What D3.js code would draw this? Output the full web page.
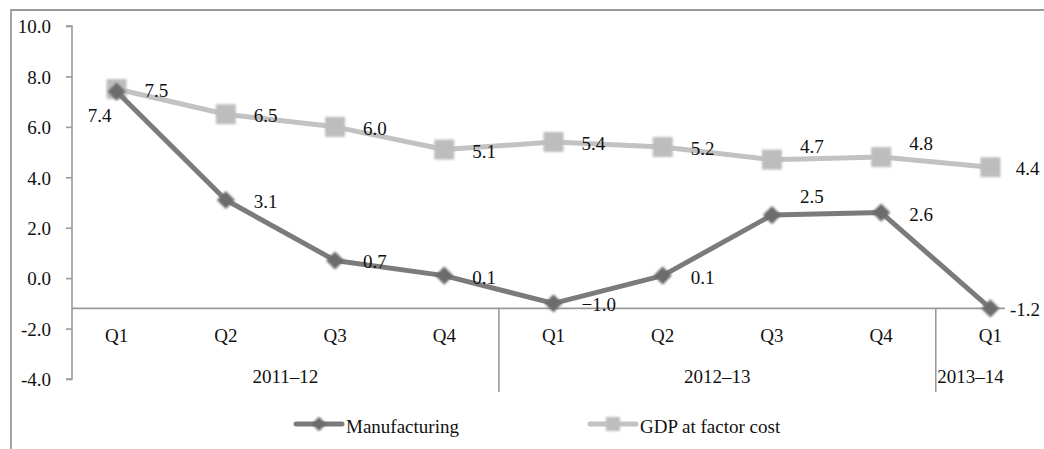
<!DOCTYPE html>
<html>
<head>
<meta charset="utf-8">
<script src="https://cdn.jsdelivr.net/npm/d3@7"></script>
<style>
  html, body { margin: 0; padding: 0; background: #fff; }
  svg { display: block; }
  text { font-family: "Liberation Serif", "DejaVu Serif", serif; fill: #111; }
</style>
</head>
<body>
<svg id="chart" width="1044" height="449"></svg>
<script>
// Quarterly growth rates (%), 2011-12 Q1 to 2013-14 Q1
const quarters = ["Q1", "Q2", "Q3", "Q4", "Q1", "Q2", "Q3", "Q4", "Q1"];
const years = [
  { label: "2011\u201312", from: 0, to: 3 },
  { label: "2012\u201313", from: 4, to: 7 },
  { label: "2013\u201314", from: 8, to: 8 }
];
const manufacturing = [7.4, 3.1, 0.7, 0.1, -1.0, 0.1, 2.5, 2.6, -1.2];
const gdpFactorCost = [7.5, 6.5, 6.0, 5.1, 5.4, 5.2, 4.7, 4.8, 4.4];
const yTicks = [-4, -2, 0, 2, 4, 6, 8, 10];
const seriesNames = ["Manufacturing", "GDP at factor cost"];

// where each value label sits relative to its point
const mfgLabelPos = ["lb", "r", "r", "r", "r", "r", "a", "r", "r"];
const gdpLabelPos = ["r", "r", "r", "r", "r", "r", "a", "a", "r"];

const svg = d3.select("#chart");
const FS = 19;
const axisColor = "#9a9a9a";
const mfgLine = "#7b7b7b", mfgMark = "#6c6c6c";
const gdpLine = "#c2c2c2", gdpMark = "#bdbdbd";

const defs = svg.append("defs");
defs.append("filter").attr("id", "soft")
  .attr("x", "-30%").attr("y", "-30%").attr("width", "160%").attr("height", "160%")
  .append("feGaussianBlur").attr("stdDeviation", 0.9);

// outer frame (top and left edges)
svg.append("path")
  .attr("d", "M11,449 L11,10 L1044,10")
  .attr("fill", "none").attr("stroke", axisColor).attr("stroke-width", 1.8);

const x = d3.scaleBand().domain(d3.range(quarters.length)).range([62, 1045]).padding(0);
const cx = i => x(i) + x.bandwidth() / 2;
const y = d3.scaleLinear().domain([-4, 10]).range([379, 26]);

const plotLeft = 72, plotRight = 1005;
const crossAt = -1.2;

// value axis
const yAxis = svg.append("g").attr("transform", `translate(${plotLeft},0)`)
  .call(d3.axisLeft(y).tickValues(yTicks).tickSize(6).tickPadding(15)
    .tickFormat(d => d.toFixed(1)));
yAxis.select(".domain").attr("stroke", axisColor).attr("stroke-width", 1.6)
  .attr("d", `M-6,${y(10)}H0V${y(-4)}H-6`);
yAxis.selectAll(".tick line").attr("stroke", axisColor).attr("stroke-width", 1.6);
yAxis.selectAll(".tick text").attr("font-size", FS).attr("fill", "#111")
  .attr("font-family", "Liberation Serif, serif").attr("dy", "0.36em");

// category axis line
const yc = y(crossAt);
svg.append("line").attr("x1", plotLeft).attr("x2", plotRight)
  .attr("y1", yc).attr("y2", yc)
  .attr("stroke", axisColor).attr("stroke-width", 1.6);

// year group separators
years.slice(1).forEach(g => {
  svg.append("line").attr("x1", x(g.from)).attr("x2", x(g.from))
    .attr("y1", yc).attr("y2", 392)
    .attr("stroke", axisColor).attr("stroke-width", 1.6);
});

// quarter labels
svg.selectAll(".qlab").data(quarters).join("text")
  .attr("x", (d, i) => cx(i)).attr("y", 342)
  .attr("text-anchor", "middle").attr("font-size", FS).text(d => d);

// year labels, centred in the visible span of each group
svg.selectAll(".ylab").data(years).join("text")
  .attr("x", g => (Math.max(x(g.from), plotLeft) + Math.min(x(g.to) + x.bandwidth(), plotRight)) / 2)
  .attr("y", 383).attr("text-anchor", "middle").attr("font-size", FS)
  .text(g => g.label);

const line = d3.line().x((d, i) => cx(i)).y(d => y(d));

function drawSeries(values, color, markColor, shape, size) {
  svg.append("path").datum(values).attr("d", line)
    .attr("fill", "none").attr("stroke", color).attr("stroke-width", 5)
    .attr("stroke-linejoin", "round");
  svg.selectAll(null).data(values).join("path")
    .attr("transform", (d, i) => `translate(${cx(i)},${y(d)})`)
    .attr("d", d3.symbol().type(shape).size(size))
    .attr("fill", markColor).attr("filter", "url(#soft)");
}

const diamond = {
  draw(ctx, size) {
    const r = Math.sqrt(size) / 2 * 1.05;
    ctx.moveTo(0, -r); ctx.lineTo(r, 0); ctx.lineTo(0, r); ctx.lineTo(-r, 0); ctx.closePath();
  }
};

drawSeries(gdpFactorCost, gdpLine, gdpMark, d3.symbolSquare, 400);
drawSeries(manufacturing, mfgLine, mfgMark, diamond, 300);

// value labels
function fmt(v, i, series) {
  const s = v.toFixed(1);
  return (series === "m" && i === 4) ? s.replace("-", "\u2212") : s;
}
function labels(values, pos, series) {
  const t = svg.selectAll(null).data(values).join("text")
    .attr("font-size", FS)
    .attr("text-anchor", (d, i) => pos[i] === "lb" ? "end" : "start")
    .attr("x", (d, i) => pos[i] === "lb" ? cx(i) - 5 : cx(i) + 28)
    .attr("y", (d, i) => {
      const p = pos[i];
      if (p === "lb") return y(d) + 30;
      if (p === "a") return y(d) + (series === "m" ? -12 : -7);
      return y(d) + 8;
    })
    .text((d, i) => fmt(d, i, series));
  // keep labels inside the chart's right edge
  t.each(function () {
    const b = this.getBBox();
    const over = b.x + b.width - 1040;
    if (over > 0) d3.select(this).attr("x", +d3.select(this).attr("x") - over);
  });
}
labels(gdpFactorCost, gdpLabelPos, "g");
labels(manufacturing, mfgLabelPos, "m");

// legend
const legend = [
  { name: seriesNames[0], line: mfgLine, mark: mfgMark, shape: diamond, size: 190, x0: 296 },
  { name: seriesNames[1], line: gdpLine, mark: gdpMark, shape: d3.symbolSquare, size: 200, x0: 590 }
];
legend.forEach(l => {
  const g = svg.append("g").attr("transform", `translate(${l.x0},424)`);
  g.append("line").attr("x1", 0).attr("x2", 46).attr("y1", 0).attr("y2", 0)
    .attr("stroke", l.line).attr("stroke-width", 5).attr("stroke-linecap", "round");
  g.append("path").attr("transform", "translate(23,0)")
    .attr("d", d3.symbol().type(l.shape).size(l.size))
    .attr("fill", l.mark).attr("filter", "url(#soft)");
  g.append("text").attr("x", 50).attr("y", 9).attr("font-size", FS).text(l.name);
});
</script>
</body>
</html>
